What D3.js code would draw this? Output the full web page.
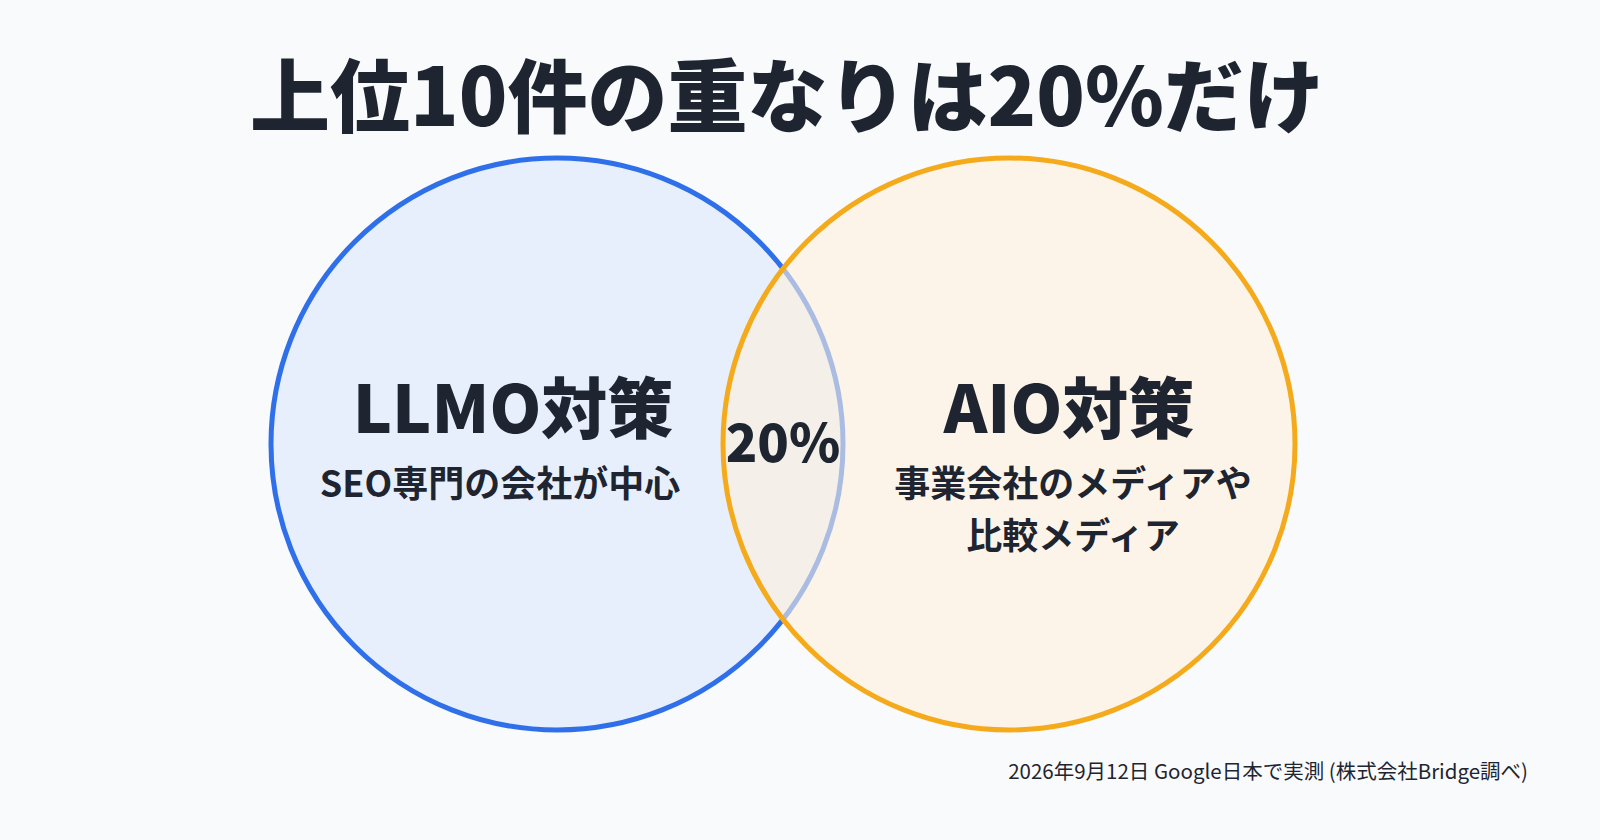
<!DOCTYPE html>
<html>
<head>
<meta charset="utf-8">
<script src="https://cdn.jsdelivr.net/npm/d3@7"></script>
<style>
  body { margin: 0; background: #f9fafc; }
  text { font-family: "Noto Sans CJK JP", "Noto Sans", sans-serif; fill: #1e2530; }
</style>
</head>
<body>
<svg id="chart" width="1600" height="840"></svg>
<script>
// data
var titleText = "上位10件の重なりは20%だけ";
var setNames = ["LLMO対策", "AIO対策"];
var setDescs = [["SEO専門の会社が中心"], ["事業会社のメディアや", "比較メディア"]];
var setPositions = [0, 1];          // centre slots on the x scale
var overlapPct = 20;
var noteText = "2026年9月12日 Google日本で実測 (株式会社Bridge調べ)";

var stroke = ["#2f6fe9", "#f5aa1c"];
var fill = ["#e7effc", "#fdf0dc"];

var svg = d3.select("#chart");
var x = d3.scaleLinear().domain([0, 1]).range([557, 1009]);
var cy = 444, r = 286;

// title
svg.append("text")
  .attr("x", 787).attr("y", 126)
  .attr("text-anchor", "middle")
  .attr("font-size", 80).attr("font-weight", 900)
  .text(titleText);

// circles
svg.selectAll(".set")
  .data(setPositions)
  .enter()
  .append("circle")
  .attr("class", "set")
  .attr("cx", function(d) { return x(d); })
  .attr("cy", cy).attr("r", r)
  .attr("fill", function(d, i) { return fill[i]; })
  .attr("fill-opacity", function(d, i) { return i === 0 ? 1 : 0.6; })
  .attr("stroke", function(d, i) { return stroke[i]; })
  .attr("stroke-width", 5);

// set names
svg.selectAll(".name")
  .data(setNames)
  .enter()
  .append("text")
  .attr("class", "name")
  .attr("x", function(d, i) { return x(setPositions[i]) + (i === 0 ? -44 : 60); })
  .attr("y", 433)
  .attr("text-anchor", "middle")
  .attr("font-size", 66).attr("font-weight", 900)
  .text(function(d) { return d; });

// descriptions
setDescs.forEach(function(lines, i) {
  svg.selectAll(".desc" + i)
    .data(lines)
    .enter()
    .append("text")
    .attr("x", x(setPositions[i]) + (i === 0 ? -57 : 64))
    .attr("y", function(d, j) { return 497 + j * 52; })
    .attr("text-anchor", "middle")
    .attr("font-size", 36).attr("font-weight", 700)
    .text(function(d) { return d; });
});

// overlap label
svg.append("text")
  .attr("x", (x(0) + x(1)) / 2).attr("y", 462)
  .attr("text-anchor", "middle")
  .attr("font-size", 52).attr("font-weight", 900)
  .text(overlapPct + "%");

// footnote
svg.append("text")
  .attr("x", 1528).attr("y", 779)
  .attr("text-anchor", "end")
  .attr("font-size", 20.5)
  .text(noteText);
</script>
</body>
</html>
